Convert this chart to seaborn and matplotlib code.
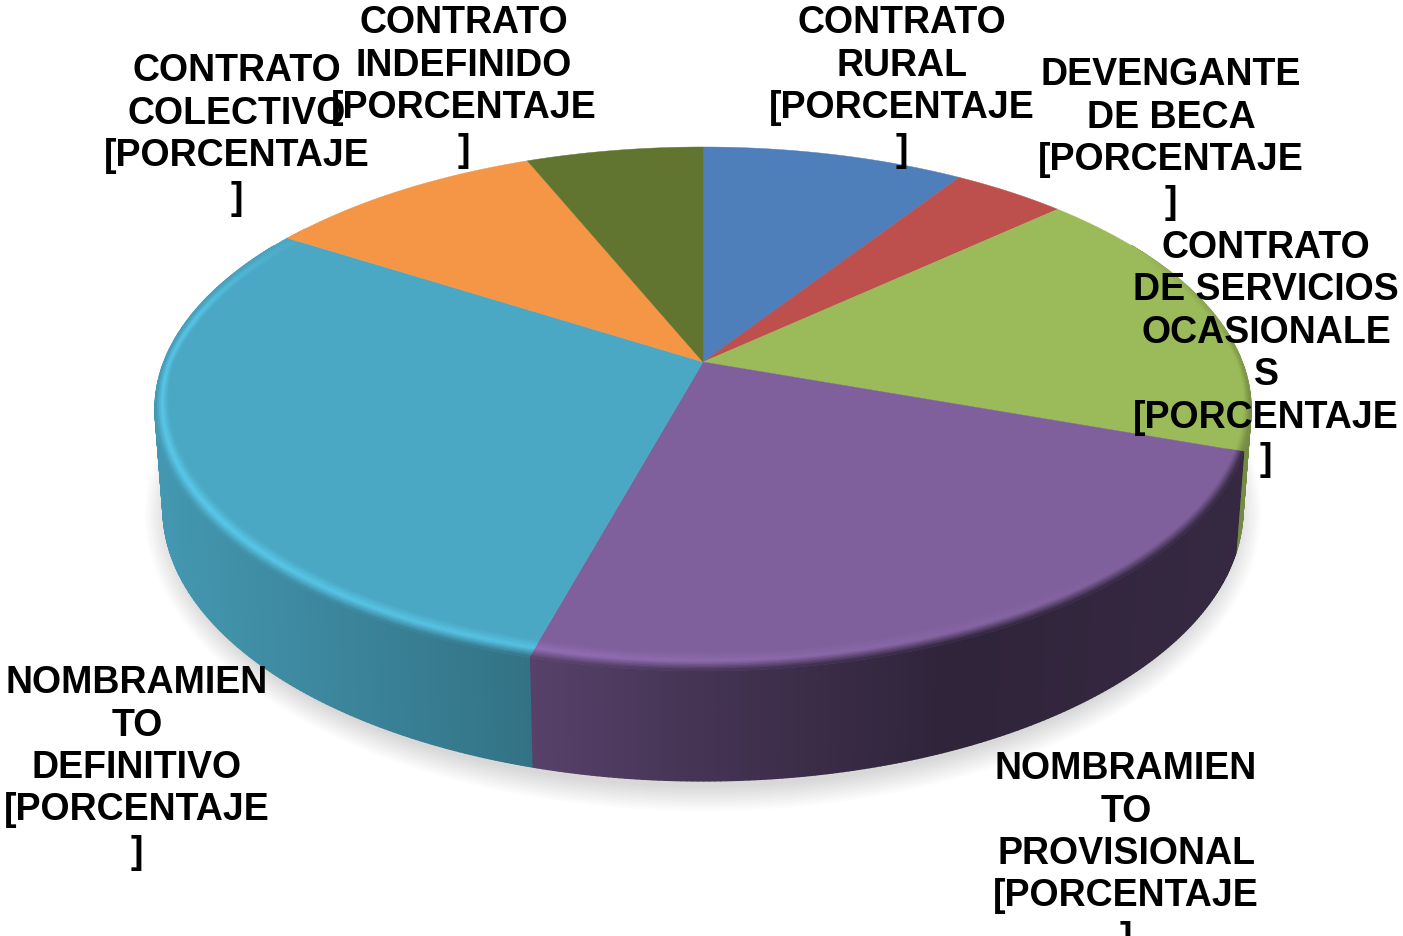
import numpy as np
import matplotlib
matplotlib.use('Agg')
import matplotlib.pyplot as plt
from matplotlib.collections import PolyCollection
import seaborn as sns

# slices clockwise from 12 o'clock, shares
names = ['CONTRATO RURAL', 'DEVENGANTE DE BECA', 'CONTRATO DE SERVICIOS OCASIONALES',
         'NOMBRAMIENTO PROVISIONAL', 'NOMBRAMIENTO DEFINITIVO',
         'CONTRATO COLECTIVO', 'CONTRATO INDEFINIDO']
shares = [9.2, 4.0, 17.2, 23.9, 29.7, 9.8, 6.2]
slice_colors = ['#4e7fba', '#bd504d', '#9bba59', '#80609c', '#4ba8c4', '#f59646', '#617530']

# labels keep the wrapped text of the original chart
label_texts = ['CONTRATO\nRURAL\n[PORCENTAJE\n]',
               'DEVENGANTE\nDE BECA\n[PORCENTAJE\n]',
               'CONTRATO\nDE SERVICIOS\nOCASIONALE\nS\n[PORCENTAJE\n]',
               'NOMBRAMIEN\nTO\nPROVISIONAL\n[PORCENTAJE\n]',
               'NOMBRAMIEN\nTO\nDEFINITIVO\n[PORCENTAJE\n]',
               'CONTRATO\nCOLECTIVO\n[PORCENTAJE\n]',
               'CONTRATO\nINDEFINIDO\n[PORCENTAJE\n]']
label_x = [902, 1171, 1266, 1126, 137, 237, 464]
label_y = [87, 139, 354, 854, 768, 135, 87]

sns.set_theme(style='white')
plt.rcParams['font.family'] = ['Liberation Sans', 'DejaVu Sans']
palette = sns.color_palette(slice_colors)

fig, ax = plt.subplots(figsize=(14.03, 9.37), dpi=100)
ax.set_position([0, 0, 1, 1])
ax.set_xlim(0, 1403)
ax.set_ylim(937, 0)
ax.axis('off')

# perspective of the disc, in pixels
cx, cy = 703, 363
a, b, k = 539, 253.5, 0.179


def project(theta, r=1.0):
    u, v = r * np.sin(theta), r * np.cos(theta)
    return cx + a * u / (1 + k * v), cy - b * v / (1 + k * v)


def lower(x, y):
    return cx + (x - cx) * 540 / 548, 510 + (y - 410) * 272 / 262


def wall_color(base, x, idx):
    m = np.interp(x, [160, 530, 700, 950, 1240], [.9, .68, .54, .37, .42])
    if names[idx].endswith('OCASIONALES'):
        m = 0.75
    return np.outer(m, base)


# soft shadow under the disc
t = np.linspace(0, 2 * np.pi, 300)
for e in range(26, 0, -2):
    ax.fill(cx + (532 + e) * np.sin(t), 514 + (272 + e) * np.cos(t),
            color='black', alpha=0.012, lw=0, zorder=1)

edges = np.radians(np.concatenate([[0], np.cumsum(shares)]) * 3.6)

# side wall
for i, base in enumerate(palette):
    th = np.arange(edges[i], edges[i + 1] + 0.005, np.radians(0.5))
    th = th[(th > np.radians(60)) & (th < np.radians(300))]
    if len(th) < 2:
        continue
    xt, yt = project(th)
    xb, yb = lower(xt, yt)
    quads = [[(xt[j], yt[j]), (xt[j + 1], yt[j + 1]), (xb[j + 1], yb[j + 1]), (xb[j], yb[j])]
             for j in range(len(th) - 1)]
    cols = wall_color(base, xt[:-1], i)
    ax.add_collection(PolyCollection(quads, facecolors=cols, edgecolors=cols, linewidths=1.2, zorder=2))

# top face
for i, base in enumerate(palette):
    th = np.linspace(edges[i], edges[i + 1], 200)
    x, y = project(th)
    ax.fill(np.r_[cx, x], np.r_[cy, y], color=base, lw=0.3, zorder=3)

# bevel along the front rim, narrower towards the sides
steps = np.linspace(0, 1, 13)
for i, base in enumerate(palette):
    base = np.array(base)
    hi = np.clip(base * 1.2, 0, 1)
    th = np.arange(edges[i], edges[i + 1] + 0.005, np.radians(0.5))
    quads, cols = [], []
    for j in range(len(th) - 1):
        deg = np.degrees(th[j])
        h = np.interp(deg, [130, 200, 240, 280, 305], [0, .8, 1, .9, 0])
        f = np.interp(deg, [60, 100, 260, 305], [0, 1, 1, 0])
        if f == 0:
            continue
        peak = base + (hi - base) * h
        x0, _ = project(th[j])
        wall = wall_color(base, np.array([x0]), i)[0]
        w0 = 0.018 + 0.032 * abs(np.cos(th[j]))
        w1 = 0.018 + 0.032 * abs(np.cos(th[j + 1]))
        for q in range(len(steps) - 1):
            s = (q + 0.5) / (len(steps) - 1)
            if s < 0.5:
                c = base + (peak - base) * s * 2
            else:
                c = peak + (base + (wall - base) * f - peak) * (s - 0.5) * 2
            xa, ya = project(th[j], 1 - w0 * (1 - steps[q]))
            xb, yb = project(th[j + 1], 1 - w1 * (1 - steps[q]))
            xc, yc = project(th[j + 1], 1 - w1 * (1 - steps[q + 1]))
            xd, yd = project(th[j], 1 - w0 * (1 - steps[q + 1]))
            quads.append([(xa, ya), (xb, yb), (xc, yc), (xd, yd)])
            cols.append(c)
    if quads:
        ax.add_collection(PolyCollection(quads, facecolors=cols, edgecolors=cols, linewidths=0.6, zorder=4))

for txt, x, y in zip(label_texts, label_x, label_y):
    ax.text(x, y, txt, ha='center', va='center', multialignment='center', fontsize=27,
            fontweight='bold', color='black', linespacing=1.23, zorder=5)

fig.savefig('out.png', dpi=100)
